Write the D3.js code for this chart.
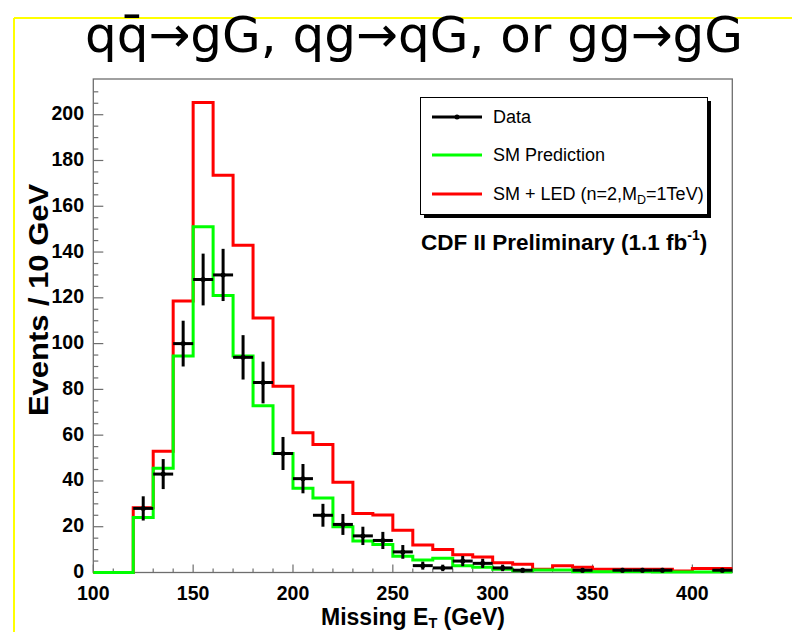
<!DOCTYPE html>
<html><head><meta charset="utf-8">
<script src="https://cdn.jsdelivr.net/npm/d3@7"></script>
<style>body{margin:0;background:#fff;}svg{display:block;}</style>
</head><body>
<script>
// Bin lower edges (GeV), 10 GeV bins from 100 to 420
const binEdges = d3.range(100, 420, 10);
const binWidth = 10;
// SM prediction (green)
const smPrediction = [0,0,24,45.5,94.6,151,121,94.6,72.8,52,36.8,32.5,20,13.8,12.2,7.1,5.5,6.2,3,2.3,1.4,0.8,1.1,1.1,0.3,0.3,0.3,0.3,0.2,0.2,0.2,0.2];
// SM + LED (red)
const smLED = [0,0,28.3,53,118.6,205.3,173.5,143,111.2,81.4,61,55.9,39.4,25.8,25.1,18.5,12,10.1,7.8,6.8,4.3,3.6,1.4,3.0,2.3,1.4,1.4,1.4,1.4,0.65,1.7,1.7];
// Data counts
const dataCounts = [0,0,28,43,100,128,130,94,83,52,41,25,21,16,14,9,3,2,5,4,2,1,0,0,1,0,1,1,1,0,0,1];
const xTicks = [100,150,200,250,300,350,400];
const yTicks = [0,20,40,60,80,100,120,140,160,180,200];
const legendLabels = ["Data","SM Prediction","SM + LED (n=2,M"];

const W = 792, H = 632;
const svg = d3.select("body").append("svg").attr("width", W).attr("height", H);

// yellow slide border
svg.append("line").attr("x1",14).attr("x2",W).attr("y1",18).attr("y2",18).attr("stroke","#ffff00").attr("stroke-width",2);
svg.append("line").attr("x1",14).attr("x2",14).attr("y1",18).attr("y2",H).attr("stroke","#ffff00").attr("stroke-width",2);

// title
svg.append("text").attr("x",414).attr("y",52).attr("text-anchor","middle")
  .attr("font-family","DejaVu Sans, Verdana, sans-serif").attr("font-size",50)
  .text("qq\u0304\u2192gG, qg\u2192qG, or gg\u2192gG");

const x = d3.scaleLinear().domain([100,420]).range([93.3,732.3]);
const y = d3.scaleLinear().domain([0,215.6]).range([572.5,79]);

const frameColor = "#6e6e6e";
// frame
svg.append("rect").attr("x",x(100)).attr("y",y(215.6)).attr("width",x(420)-x(100)).attr("height",y(0)-y(215.6))
  .attr("fill","none").attr("stroke",frameColor).attr("stroke-width",1.3);

// ticks
const xMinor = d3.range(100,421,10);
svg.append("g").selectAll("line").data(xMinor).join("line")
  .attr("x1",d=>x(d)).attr("x2",d=>x(d)).attr("y1",y(0)).attr("y2",d=> y(0) - (d%50===0?8:4))
  .attr("stroke",frameColor).attr("stroke-width",1.2);
const yMinor = d3.range(0,215,5);
svg.append("g").selectAll("line").data(yMinor).join("line")
  .attr("x1",x(100)).attr("x2",d=> x(100) + (d%20===0?10:5)).attr("y1",d=>y(d)).attr("y2",d=>y(d))
  .attr("stroke",frameColor).attr("stroke-width",1.2);

// tick labels
svg.append("g").selectAll("text").data(xTicks).join("text")
  .attr("x",d=>x(d)).attr("y",600).attr("text-anchor","middle")
  .attr("font-family","Liberation Sans, Arial, sans-serif").attr("font-weight","bold").attr("font-size",19.5)
  .text(d=>d);
svg.append("g").selectAll("text").data(yTicks).join("text")
  .attr("x",84).attr("y",d=>y(d)+5.5).attr("text-anchor","end")
  .attr("font-family","Liberation Sans, Arial, sans-serif").attr("font-weight","bold").attr("font-size",19.5)
  .text(d=>d);

// axis titles
const xt = svg.append("text").attr("x",413).attr("y",625).attr("text-anchor","middle")
  .attr("font-family","Liberation Sans, Arial, sans-serif").attr("font-weight","bold").attr("font-size",23);
xt.append("tspan").text("Missing E");
xt.append("tspan").attr("font-size",14.5).attr("dy",3).text("T");
xt.append("tspan").attr("dy",-3).text(" (GeV)");
svg.append("text").attr("transform","translate(48,300) rotate(-90)").attr("text-anchor","middle")
  .attr("font-family","Liberation Sans, Arial, sans-serif").attr("font-weight","bold").attr("font-size",28)
  .attr("textLength",232).attr("lengthAdjust","spacingAndGlyphs")
  .text("Events / 10 GeV");

// histograms
function stepPoints(vals){
  const pts = binEdges.map((e,i)=>[e, vals[i]]);
  pts.push([420, vals[vals.length-1]]);
  return pts;
}
const line = d3.line().x(d=>x(d[0])).y(d=>y(d[1])).curve(d3.curveStepAfter);
const plot = svg.append("g");
plot.append("path").attr("d", line(stepPoints(smLED))).attr("fill","none").attr("stroke","#ff0000").attr("stroke-width",3);
plot.append("path").attr("d", line(stepPoints(smPrediction))).attr("fill","none").attr("stroke","#00ff00").attr("stroke-width",3);

// data points with errors
const pts = binEdges.map((e,i)=>({lo:e, hi:e+binWidth, c:e+binWidth/2, v:dataCounts[i]})).filter(d=>d.v>0);
const dg = plot.append("g").attr("stroke","#000").attr("stroke-width",3);
dg.selectAll(".h").data(pts).join("line").attr("x1",d=>x(d.lo)).attr("x2",d=>x(d.hi)).attr("y1",d=>y(d.v)).attr("y2",d=>y(d.v));
dg.selectAll(".v").data(pts).join("line").attr("x1",d=>x(d.c)).attr("x2",d=>x(d.c)).attr("y1",d=>y(d.v-Math.sqrt(d.v))).attr("y2",d=>y(d.v+Math.sqrt(d.v)));
plot.append("g").selectAll("circle").data(pts).join("circle").attr("cx",d=>x(d.c)).attr("cy",d=>y(d.v)).attr("r",2.5).attr("fill","#000");

// legend
const lg = svg.append("g");
lg.append("rect").attr("x",424).attr("y",101).attr("width",287).attr("height",117).attr("fill","#000");
lg.append("rect").attr("x",420.5).attr("y",97.5).attr("width",287).attr("height",117).attr("fill","#fff").attr("stroke","#000").attr("stroke-width",1);
const legY = [117,155,194];
const legColors = ["#000","#00ff00","#ff0000"];
lg.selectAll(".ll").data(legY).join("line").attr("x1",432).attr("x2",482).attr("y1",d=>d).attr("y2",d=>d)
  .attr("stroke",(d,i)=>legColors[i]).attr("stroke-width",3);
lg.append("circle").attr("cx",457).attr("cy",legY[0]).attr("r",2.5).attr("fill","#000");
lg.selectAll(".lt").data(legendLabels).join("text").attr("x",493).attr("y",(d,i)=>legY[i]+6)
  .attr("font-family","Liberation Sans, Arial, sans-serif").attr("font-size",18)
  .each(function(d,i){
    const t = d3.select(this);
    t.append("tspan").text(d);
    if(i===2){ t.append("tspan").attr("font-size",12.5).attr("dy",4).text("D"); t.append("tspan").attr("dy",-4).text("=1TeV)"); }
  });
const cdf = svg.append("text").attr("x",421).attr("y",250)
  .attr("font-family","Liberation Sans, Arial, sans-serif").attr("font-weight","bold").attr("font-size",22.5);
cdf.append("tspan").text("CDF II Preliminary (1.1 fb");
cdf.append("tspan").attr("font-size",14).attr("dy",-10).text("-1");
cdf.append("tspan").attr("dy",10).text(")");
</script>
</body></html>
